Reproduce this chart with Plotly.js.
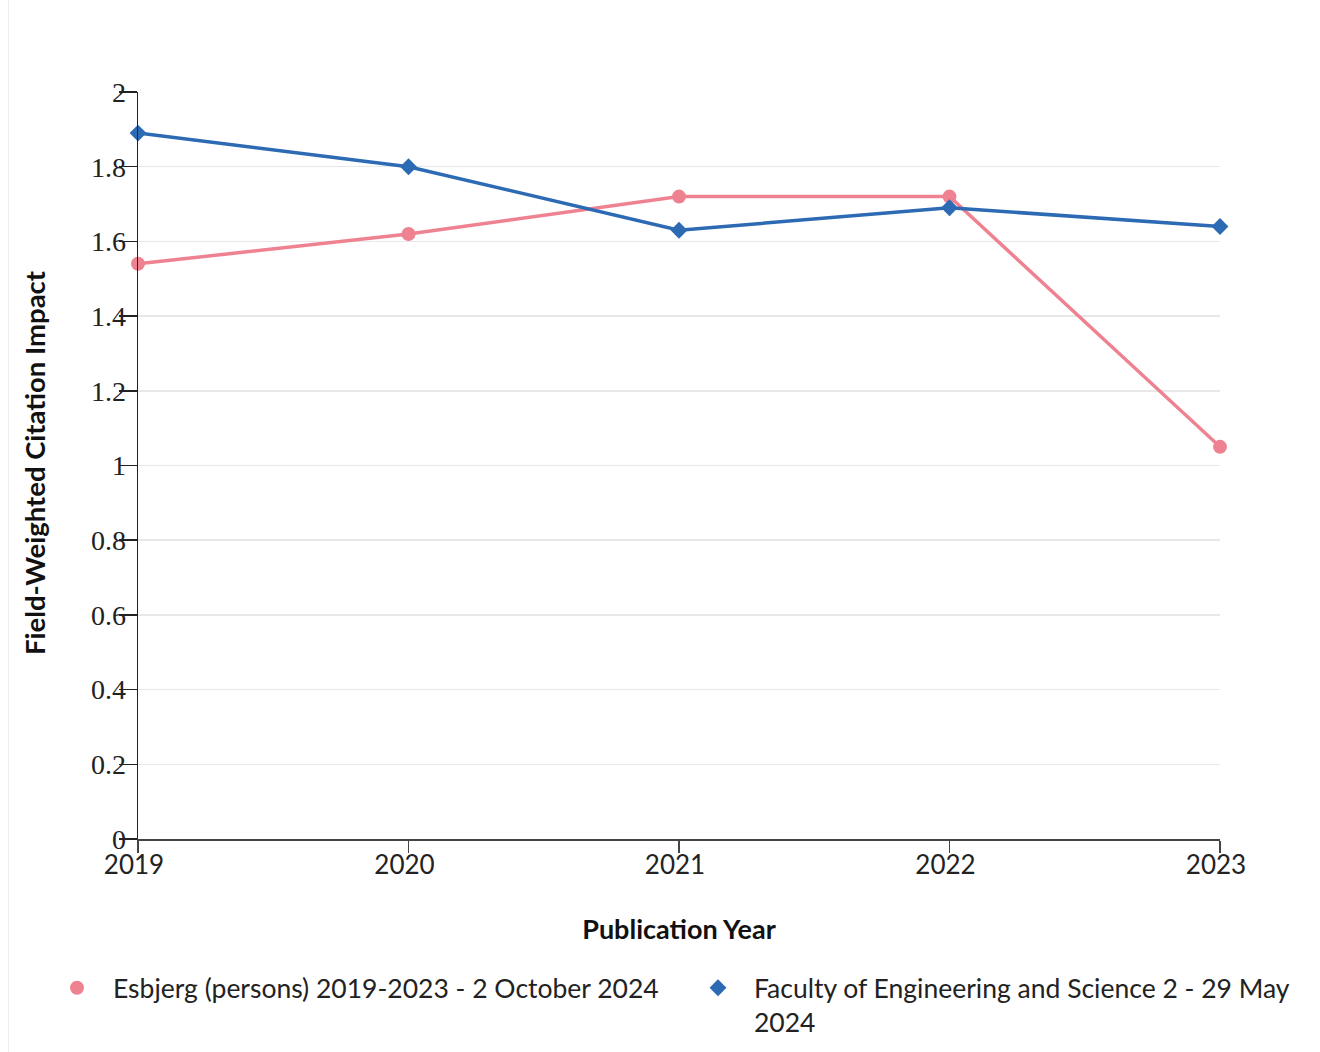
<!DOCTYPE html>
<html>
<head>
<meta charset="utf-8">
<script src="https://cdn.plot.ly/plotly-3.0.1.min.js"></script>
<style>
  html, body { margin: 0; padding: 0; background: #fff; }
  #wrap { position: relative; width: 1320px; height: 1052px; }
  #edge { position: absolute; left: 8px; top: 0; width: 1px; height: 1052px; background: #ececec; z-index: 2; }
  #chart { position: absolute; left: 0; top: 0; width: 1320px; height: 1052px; }
</style>
</head>
<body>
<div id="wrap"><div id="chart"></div><div id="edge"></div></div>
<script>
const years = [2019, 2020, 2021, 2022, 2023];
const yearLabels = ['2019', '2020', '2021', '2022', '2023'];
const esbjergValues = [1.54, 1.62, 1.72, 1.72, 1.05];
const facultyValues = [1.89, 1.80, 1.63, 1.69, 1.64];
const yTickVals = [0, 0.2, 0.4, 0.6, 0.8, 1, 1.2, 1.4, 1.6, 1.8, 2];
const yTickText = ['0', '0.2', '0.4', '0.6', '0.8', '1', '1.2', '1.4', '1.6', '1.8', '2'];
const esbjergName = 'Esbjerg (persons) 2019-2023 - 2 October 2024';
const facultyName = 'Faculty of Engineering and Science 2 - 29 May<br>2024';
const xTitle = 'Publication Year';
const yTitle = 'Field-Weighted Citation Impact';

const pink = '#ef8290';
const blue = '#2d6ab4';
const sansFont = 'Lato, "Open Sans", sans-serif';
const serifFont = '"Liberation Serif", "DejaVu Serif", serif';

const traces = [
  { x: years, y: esbjergValues, type: 'scatter', mode: 'lines', line: { color: pink, width: 3.5 },
    showlegend: false, cliponaxis: false, hoverinfo: 'skip' },
  { x: years, y: facultyValues, type: 'scatter', mode: 'lines', line: { color: blue, width: 3.5 },
    showlegend: false, cliponaxis: false, hoverinfo: 'skip' },
  { x: years, y: esbjergValues, type: 'scatter', mode: 'markers', name: esbjergName, legend: 'legend',
    marker: { color: pink, size: 14, symbol: 'circle' }, cliponaxis: false },
  { x: years, y: facultyValues, type: 'scatter', mode: 'markers', name: facultyName, legend: 'legend2',
    marker: { color: blue, size: 13, symbol: 'diamond' }, cliponaxis: false }
];

const legendCommon = {
  orientation: 'v', xref: 'container', yref: 'container', xanchor: 'left', yanchor: 'top',
  font: { family: sansFont, size: 26.5, color: '#222' },
  itemwidth: 62, valign: 'top', itemclick: false, itemdoubleclick: false,
  bgcolor: 'rgba(0,0,0,0)', borderwidth: 0
};

const layout = {
  width: 1320, height: 1052,
  margin: { l: 138, r: 100, t: 92, b: 213, autoexpand: false },
  paper_bgcolor: '#fff', plot_bgcolor: '#fff',
  font: { family: sansFont, color: '#222' },
  xaxis: {
    range: [2019, 2023], tickvals: years, ticktext: yearLabels,
    showgrid: false, zeroline: false,
    showline: true, linecolor: '#444', linewidth: 2,
    ticks: 'outside', ticklen: 12, tickcolor: '#444', tickwidth: 1.5,
    ticklabelstandoff: -10, ticklabelshift: -4,
    tickfont: { family: sansFont, size: 26, color: '#222' },
    title: { text: '<b>' + xTitle + '</b>', font: { family: sansFont, size: 27, color: '#111' }, standoff: 41 },
    fixedrange: true
  },
  yaxis: {
    range: [0, 2], tickvals: yTickVals, ticktext: yTickText,
    showgrid: true, gridcolor: '#e8e8e8', gridwidth: 1.5, zeroline: false,
    showline: true, linecolor: '#222', linewidth: 1.5,
    ticks: 'outside', ticklen: 18, tickcolor: '#222', tickwidth: 1.5,
    ticklabelstandoff: -13,
    tickfont: { family: serifFont, size: 28, color: '#222' },
    fixedrange: true
  },
  annotations: [{
    text: '<b>' + yTitle + '</b>', textangle: -90,
    xref: 'paper', yref: 'paper', x: -0.0961, y: 0.5033, xanchor: 'center', yanchor: 'middle',
    showarrow: false, font: { family: sansFont, size: 27.5, color: '#111' }
  }],
  legend: Object.assign({}, legendCommon, { x: 41 / 1320, y: 1 - 964 / 1052 }),
  legend2: Object.assign({}, legendCommon, { x: 682 / 1320, y: 1 - 964 / 1052 }),
  showlegend: true
};

Plotly.newPlot('chart', traces, layout, { displayModeBar: false, staticPlot: true });
</script>
</body>
</html>
